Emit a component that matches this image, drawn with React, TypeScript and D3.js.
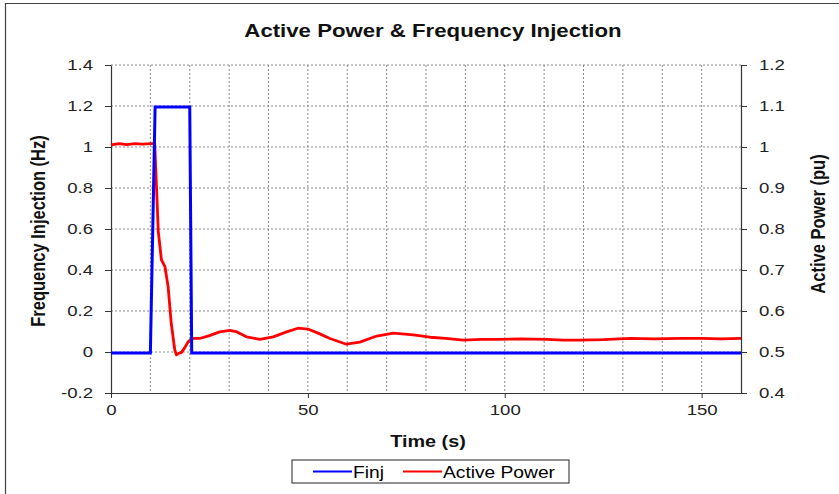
import { useEffect, useRef } from "react"
import * as d3 from "d3"

// Frequency injection (Hz), left axis
const finjTime = [0, 10, 11.2, 20, 20.5, 160]
const finjValue = [-0.005, -0.005, 1.195, 1.195, -0.005, -0.005]

// Active power (pu), right axis
const powerTime = [
  0, 2, 4, 6, 8, 10, 11.1, 11.7, 12.0, 12.8, 13.7, 14.5, 15.3, 16.2, 16.6, 17.3, 17.9, 18.7, 19.6, 20.8,
  22.5, 25, 27.6, 30.2, 32, 34.4, 37.8, 41.2, 44.6, 47.5, 50, 52.6, 55.6, 59.8, 63.2, 67.5, 71.7, 76.8,
  81, 85, 89.5, 94, 98, 104, 110.7, 115, 119, 125, 132, 138, 144.6, 150, 155, 160,
]
const powerValue = [
  1.005, 1.008, 1.006, 1.008, 1.007, 1.008, 1.008, 0.87, 0.795, 0.725, 0.708, 0.66, 0.57, 0.505, 0.493,
  0.497, 0.499, 0.51, 0.525, 0.533, 0.533, 0.54, 0.549, 0.553, 0.549, 0.537, 0.531, 0.537, 0.549, 0.558,
  0.556, 0.546, 0.533, 0.519, 0.524, 0.539, 0.546, 0.542, 0.536, 0.533, 0.529, 0.531, 0.531, 0.532, 0.531,
  0.529, 0.529, 0.53, 0.533, 0.532, 0.533, 0.533, 0.532, 0.533,
]

const xTicks = [0, 50, 100, 150]
const xGrid = d3.range(0, 161, 10)
const leftTicks = [-0.2, 0, 0.2, 0.4, 0.6, 0.8, 1, 1.2, 1.4]
const rightTicks = [0.4, 0.5, 0.6, 0.7, 0.8, 0.9, 1, 1.1, 1.2]

// the original picture is a little wider than tall, text looks stretched sideways
const SX = 1.2

export default function App() {
  const svgRef = useRef<SVGSVGElement>(null)

  useEffect(() => {
    if (!svgRef.current) return
    const svg = d3.select(svgRef.current)
    svg.selectAll("*").remove()

    const font = "Liberation Sans, Arial, sans-serif"
    const left = 111
    const right = 741
    const top = 65
    const bottom = 393

    const x = d3.scaleLinear().domain([0, 160]).range([left, right])
    const yL = d3.scaleLinear().domain([-0.2, 1.4]).range([bottom, top])
    const yR = d3.scaleLinear().domain([0.4, 1.2]).range([bottom, top])

    svg.append("rect").attr("width", 839).attr("height", 494).attr("fill", "white")

    // outer frame (top and left edges visible)
    svg.append("path").attr("d", "M5.5,500 V3.5 H839").attr("fill", "none").attr("stroke", "#444").attr("stroke-width", 1.2)

    const label = (tx: number, ty: number, text: string, size: number, bold: boolean, anchor = "middle", rotate = 0) =>
      svg.append("text")
        .attr("transform", `translate(${tx},${ty}) scale(${SX},1)${rotate ? ` rotate(${rotate})` : ""}`)
        .attr("text-anchor", anchor)
        .style("font-family", font)
        .style("font-size", `${size}px`)
        .style("font-weight", bold ? "bold" : "normal")
        .attr("fill", "#111")
        .text(text)

    // title
    label(433, 37, "Active Power & Frequency Injection", 18.5, true)

    // grid
    const grid = svg.append("g").attr("stroke", "#888").attr("stroke-dasharray", "2,2").attr("stroke-width", 1)
    grid.selectAll("line.v")
      .data(xGrid.filter((d) => d > 0 && d < 160))
      .join("line")
      .attr("x1", (d) => x(d)).attr("x2", (d) => x(d))
      .attr("y1", top).attr("y2", bottom)
    grid.selectAll("line.h")
      .data(leftTicks.filter((d) => d > -0.2))
      .join("line")
      .attr("x1", left).attr("x2", right)
      .attr("y1", (d) => yL(d)).attr("y2", (d) => yL(d))

    // axes
    const styleAxis = (g: d3.Selection<SVGGElement, unknown, null, undefined>) => {
      g.select(".domain").attr("stroke", "#333").attr("stroke-width", 1.2)
      g.selectAll(".tick line").attr("stroke", "#333")
      g.selectAll<SVGTextElement, unknown>(".tick text")
        .style("font-family", font).style("font-size", "15.5px").attr("fill", "#222")
        .each(function () {
          const t = d3.select(this)
          const tx = +(t.attr("x") || 0)
          const ty = +(t.attr("y") || 0)
          t.attr("x", 0).attr("y", 0).attr("transform", `translate(${tx},${ty}) scale(${SX},1)`)
        })
    }

    const gx = svg.append("g").attr("transform", `translate(0,${bottom})`)
      .call(d3.axisBottom(x).tickValues(xTicks).tickSize(5).tickSizeOuter(0).tickPadding(6).tickFormat(d3.format("d")))
    styleAxis(gx)

    const gl = svg.append("g").attr("transform", `translate(${left},0)`)
      .call(d3.axisLeft(yL).tickValues(leftTicks).tickSize(6).tickSizeOuter(0).tickPadding(12).tickFormat((d) => `${+(+d).toFixed(1)}`))
    styleAxis(gl)

    const gr = svg.append("g").attr("transform", `translate(${right},0)`)
      .call(d3.axisRight(yR).tickValues(rightTicks).tickSize(6).tickSizeOuter(0).tickPadding(12).tickFormat((d) => `${+(+d).toFixed(1)}`))
    styleAxis(gr)

    // axis titles
    label(45, 231, "Frequency Injection (Hz)", 16.5, true, "middle", -90)
    label(825, 224, "Active Power (pu)", 16.5, true, "middle", -90)
    label(428, 447, "Time (s)", 16.5, true)

    // series
    const finjLine = d3.line<number>().x((_, i) => x(finjTime[i])).y((d) => yL(d))
    const powerLine = d3.line<number>().x((_, i) => x(powerTime[i])).y((d) => yR(d))

    svg.append("path")
      .datum(powerValue)
      .attr("fill", "none").attr("stroke", "#ff0000").attr("stroke-width", 2.8)
      .attr("stroke-linejoin", "round")
      .attr("d", powerLine)

    svg.append("path")
      .datum(finjValue)
      .attr("fill", "none").attr("stroke", "#0000ff").attr("stroke-width", 3)
      .attr("d", finjLine)

    // legend
    const legend = svg.append("g").attr("transform", "translate(292,460)")
    legend.append("rect").attr("width", 277).attr("height", 23).attr("fill", "white").attr("stroke", "#222")
    const items = [
      { label: "Finj", color: "#0000ff", x0: 21 },
      { label: "Active Power", color: "#ff0000", x0: 111 },
    ]
    items.forEach((it) => {
      legend.append("line")
        .attr("x1", it.x0).attr("x2", it.x0 + 39)
        .attr("y1", 11.5).attr("y2", 11.5)
        .attr("stroke", it.color).attr("stroke-width", 2)
      legend.append("text")
        .attr("transform", `translate(${it.x0 + 40},17.5) scale(${SX},1)`)
        .style("font-family", font).style("font-size", "16px")
        .text(it.label)
    })
  }, [])

  return (
    <svg
      ref={svgRef}
      width={839}
      height={494}
      style={{ position: "absolute", left: 0, top: 0, display: "block" }}
    />
  )
}
